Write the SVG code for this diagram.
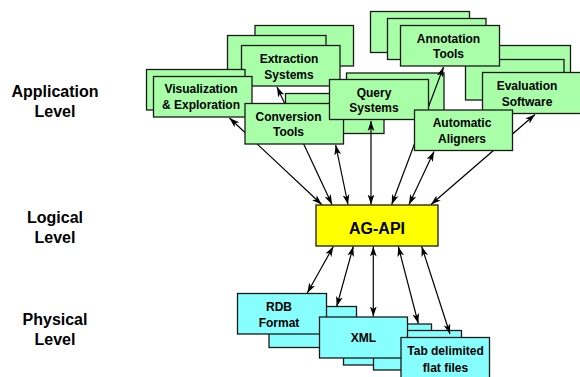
<svg xmlns="http://www.w3.org/2000/svg" width="580" height="377" viewBox="0 0 580 377">
<defs>
<marker id="ah" viewBox="0 0 10 8" refX="10" refY="4" markerWidth="10" markerHeight="8" markerUnits="userSpaceOnUse" orient="auto-start-reverse">
<path d="M0,0.6 L10,4 L0,7.4 L2.6,4 Z" fill="#000"/>
</marker>
</defs>
<style>
.g,.c,.y{stroke:#1a1a1a;stroke-width:1.3}
.g{fill:#a8ffa8}
.c{fill:#88ffff}
.y{fill:#ffff00}
text{font-family:"Liberation Sans",Arial,Helvetica,sans-serif;font-weight:bold;fill:#000;text-anchor:middle}
.t{font-size:12px}
.l{font-size:16px}
.cn line{stroke:#000;stroke-width:1.2;marker-start:url(#ah);marker-end:url(#ah)}
</style>
<rect x="0" y="0" width="580" height="377" fill="#fff"/>
<g id="labels">
<text class="l" x="55" y="97.3">Application</text>
<text class="l" x="55" y="116.7">Level</text>
<text class="l" x="55" y="223.3">Logical</text>
<text class="l" x="55" y="242.7">Level</text>
<text class="l" x="55" y="325">Physical</text>
<text class="l" x="55" y="345">Level</text>
</g>
<g id="rdb">
<rect class="c" x="269" y="306.5" width="87.5" height="41"/>
<rect class="c" x="237.5" y="293.5" width="89" height="40.5"/>
<text class="t" x="279" y="311">RDB</text>
<text class="t" x="279" y="326.6">Format</text>
</g>
<g id="xml">
<rect class="c" x="343.5" y="324" width="88" height="41"/>
</g>
<g id="tab-back">
<rect class="c" x="373.5" y="330.5" width="88" height="39.5"/>
</g>
<g id="xml-front">
<rect class="c" x="319.5" y="317" width="88" height="41"/>
<text class="t" x="363.5" y="341.5">XML</text>
</g>
<g id="tab">
<rect class="c" x="401" y="337.5" width="88.5" height="42"/>
<text class="t" x="445.5" y="355">Tab delimited</text>
<text class="t" x="445.5" y="372">flat files</text>
</g>
<g id="agapi">
<rect class="y" x="316" y="205" width="122" height="41"/>
<text class="l" x="377" y="233.5">AG-API</text>
</g>
<g id="annotation">
<rect class="g" x="370.5" y="11.5" width="99" height="41"/>
<rect class="g" x="387.5" y="18.5" width="98.5" height="41"/>
</g>
<g id="evaluation-back">
<rect class="g" x="472" y="45.5" width="98.5" height="41"/>
<rect class="g" x="465.5" y="59.5" width="98.5" height="40.5"/>
</g>
<g id="annotation-front">
<rect class="g" x="400.5" y="25.5" width="99" height="40.5"/>
<text class="t" x="448.5" y="43.4">Annotation</text>
<text class="t" x="448.5" y="57.7">Tools</text>
</g>
<g id="extraction">
<rect class="g" x="255" y="25.5" width="98.5" height="40.5"/>
<rect class="g" x="227.5" y="35.5" width="98.5" height="40.5"/>
<rect class="g" x="241.5" y="45.5" width="98.5" height="40.5"/>
<text class="t" x="289" y="63.3">Extraction</text>
<text class="t" x="289" y="79">Systems</text>
</g>
<g id="visualization">
<rect class="g" x="146.5" y="69.5" width="98.5" height="40.5"/>
<rect class="g" x="153.5" y="76.5" width="98.5" height="40.5"/>
<text class="t" x="201" y="93.3">Visualization</text>
<text class="t" x="201" y="108.6">&amp; Exploration</text>
</g>
<g id="query-back">
<rect class="g" x="346.5" y="73" width="97.5" height="40.5"/>
</g>
<g id="conversion-back">
<rect class="g" x="285.5" y="93.5" width="98.5" height="40"/>
</g>
<g id="connectors" class="cn">
<line x1="229.5" y1="118" x2="321.7" y2="204.5"/>
<line x1="277" y1="87" x2="332" y2="204.5"/>
<line x1="335.7" y1="145" x2="348" y2="204.5"/>
<line x1="371" y1="121" x2="371" y2="204.5"/>
<line x1="443.5" y1="67" x2="391.7" y2="204.5"/>
<line x1="434" y1="151.5" x2="409" y2="204.5"/>
<line x1="535" y1="114.5" x2="431" y2="204.5"/>
<line x1="333.3" y1="246.5" x2="307.3" y2="293"/>
<line x1="353.3" y1="246.5" x2="336.7" y2="306.5"/>
<line x1="373.3" y1="246.5" x2="373.3" y2="316.5"/>
<line x1="398.3" y1="246.5" x2="418.3" y2="323.5"/>
<line x1="421.7" y1="246.5" x2="450" y2="334"/>
</g>
<g id="conversion">
<rect class="g" x="245" y="103.5" width="98.5" height="40.5"/>
<text class="t" x="288.5" y="121">Conversion</text>
<text class="t" x="288.5" y="136">Tools</text>
</g>
<g id="query">
<rect class="g" x="329.5" y="79.5" width="99" height="40"/>
<text class="t" x="374" y="96.5">Query</text>
<text class="t" x="374" y="111.6">Systems</text>
</g>
<g id="evaluation">
<rect class="g" x="482.5" y="72.5" width="98.5" height="41"/>
<text class="t" x="527" y="90.3">Evaluation</text>
<text class="t" x="527" y="106">Software</text>
</g>
<g id="aligners">
<rect class="g" x="414.5" y="110" width="98" height="40.5"/>
<text class="t" x="462" y="127">Automatic</text>
<text class="t" x="462" y="143.3">Aligners</text>
</g>
</svg>
